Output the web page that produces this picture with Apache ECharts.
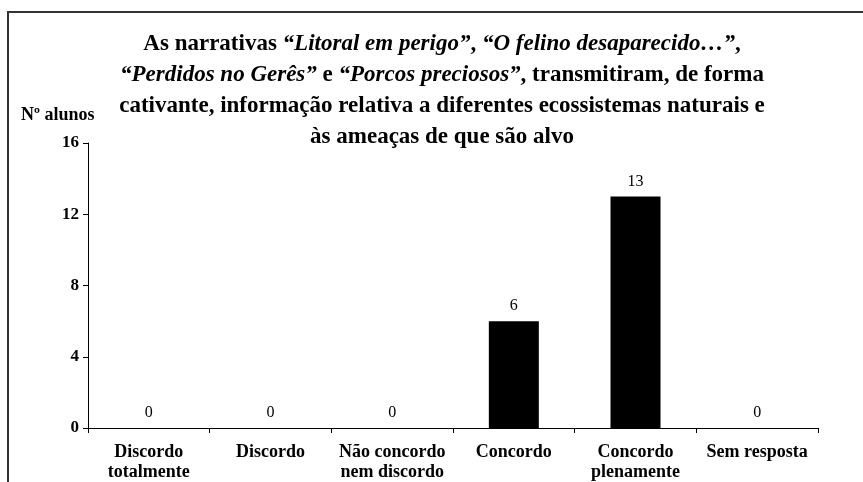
<!DOCTYPE html>
<html>
<head>
<meta charset="utf-8">
<script src="https://cdn.jsdelivr.net/npm/echarts@6/dist/echarts.min.js"></script>
<style>
html,body{margin:0;padding:0;background:#fff;}
#chart{width:863px;height:482px;}
</style>
</head>
<body>
<div id="chart"></div>
<script>
var categories = ["Discordo\ntotalmente", "Discordo", "Não concordo\nnem discordo", "Concordo", "Concordo\nplenamente", "Sem resposta"];
var values = [0, 0, 0, 6, 13, 0];
var yTicks = [0, 4, 8, 12, 16];
var yAxisName = "Nº alunos";
var titleLines = [
  "As narrativas {i|“Litoral em perigo”}, {i|“O felino desaparecido…”},",
  "{i|“Perdidos no Gerês”} e {i|“Porcos preciosos”}, transmitiram, de forma",
  "cativante, informação relativa a diferentes ecossistemas naturais e",
  "às ameaças de que são alvo"
];

var FONT = "'Liberation Serif', 'Times New Roman', serif";
var chart = echarts.init(document.getElementById('chart'), null, {renderer: 'canvas'});
chart.setOption({
  backgroundColor: '#fff',
  animation: false,
  title: {
    text: titleLines.join('\n'),
    left: 437,
    textAlign: 'center',
    top: 24,
    textStyle: {
      fontFamily: FONT,
      fontWeight: 'bold',
      fontSize: 23,
      lineHeight: 31,
      color: '#000',
      rich: {
        i: {fontFamily: FONT, fontWeight: 'bold', fontStyle: 'italic', fontSize: 23, lineHeight: 31, color: '#000'}
      }
    }
  },
  graphic: [{
    type: 'rect',
    shape: {x: 8, y: 12, width: 900, height: 520},
    style: {fill: 'none', stroke: '#333', lineWidth: 2},
    silent: true
  }, {
    type: 'text',
    left: 21,
    top: 106,
    style: {text: yAxisName, font: "bold 18px 'Liberation Serif', serif", fill: '#000'}
  }],
  grid: {left: 88, right: 45, top: 143, bottom: 54, containLabel: false},
  xAxis: {
    type: 'category',
    data: categories,
    boundaryGap: true,
    axisLine: {lineStyle: {color: '#000', width: 1}},
    axisTick: {show: true, alignWithLabel: false, length: 5, lineStyle: {color: '#000'}},
    axisLabel: {
      interval: 0,
      margin: 14,
      fontFamily: FONT,
      fontWeight: 'bold',
      fontSize: 18,
      lineHeight: 20,
      color: '#000'
    }
  },
  yAxis: {
    type: 'value',
    min: yTicks[0],
    max: yTicks[yTicks.length - 1],
    interval: 4,
    axisLine: {show: true, lineStyle: {color: '#000', width: 1}},
    axisTick: {show: true, length: 5, lineStyle: {color: '#000'}},
    splitLine: {show: false},
    axisLabel: {
      margin: 9,
      fontFamily: FONT,
      fontWeight: 'bold',
      fontSize: 17,
      color: '#000'
    }
  },
  series: [{
    type: 'bar',
    data: values,
    barWidth: 50,
    itemStyle: {color: '#000'},
    label: {
      show: true,
      position: 'top',
      distance: 7,
      fontFamily: FONT,
      fontSize: 16,
      color: '#000'
    }
  }]
});
</script>
</body>
</html>
